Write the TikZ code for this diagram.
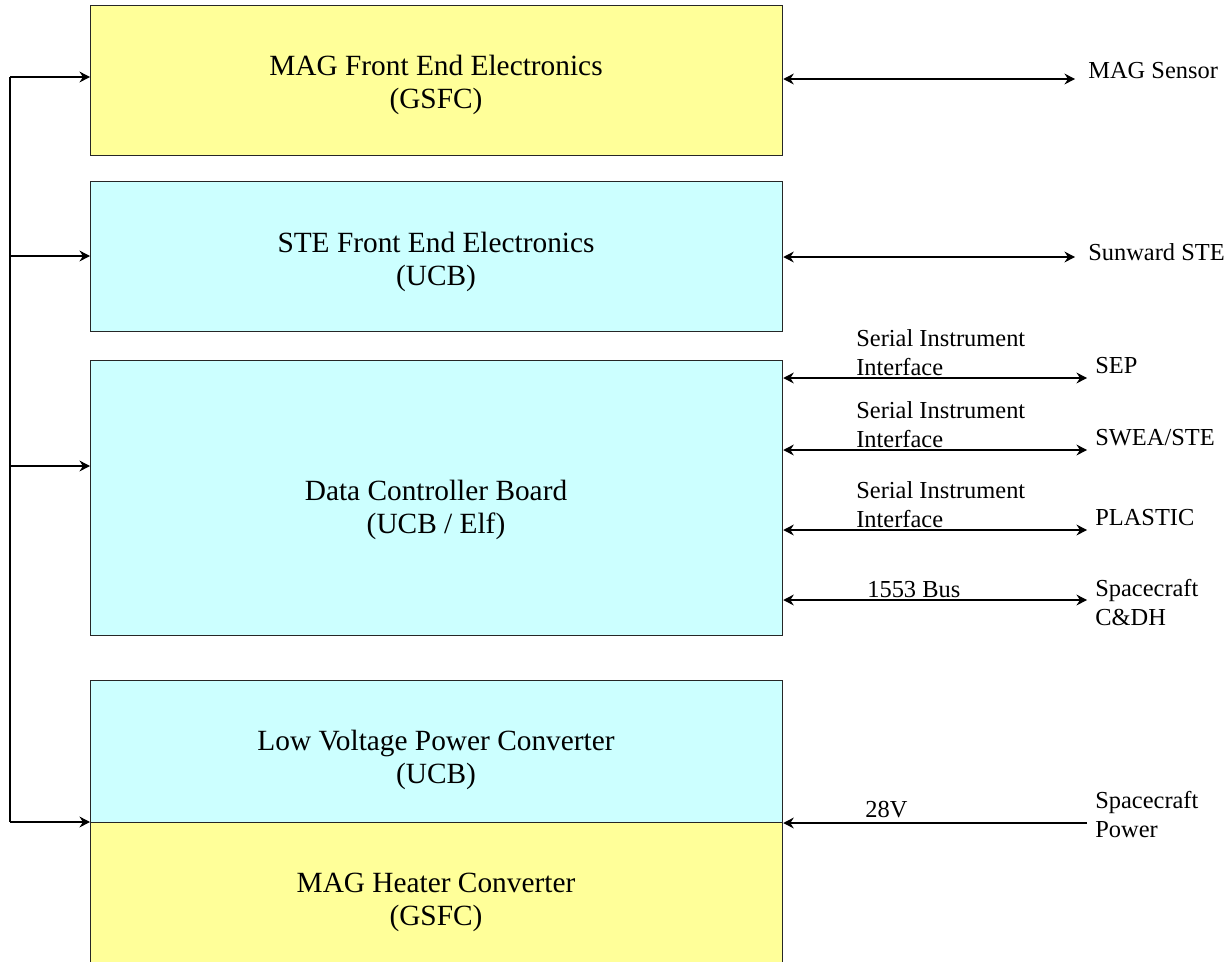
\documentclass[tikz,border=0pt]{standalone}
\usepackage{fontspec}
\setmainfont{Liberation Serif}
\usetikzlibrary{arrows.meta,calc}
\definecolor{magyellow}{HTML}{FFFF99}
\definecolor{stecyan}{HTML}{CCFFFF}
\tikzset{
  box/.style={draw=black!85, line width=0.8pt, rectangle, inner sep=0pt, anchor=north west, minimum width=13.84cm},
  boxtext/.style={font=\fontsize{16.7pt}{18.8pt}\selectfont, align=center, inner sep=0pt},
  lbl/.style={font=\fontsize{13.9pt}{16.2pt}\selectfont, align=left, inner sep=0pt, anchor=base west},
  wire/.style={line width=0.7pt, draw=black},
  tip/.style={},
  arr/.style={wire, -{Stealth[length=6pt,width=6.2pt,inset=2pt]}},
  darr/.style={wire, {Stealth[length=6pt,width=6.2pt,inset=2pt]}-{Stealth[length=6pt,width=6.2pt,inset=2pt]}}
}
\begin{document}
\begin{tikzpicture}[x=0.02cm,y=-0.02cm]
\useasboundingbox (0,0) rectangle (1228,961);
\fill[white] (0,0) rectangle (1228,961);

% boxes
\node[box, fill=magyellow, minimum height=3.0cm] (mag) at (90,5) {};
\node[box, fill=stecyan, minimum height=3.0cm] (ste) at (90,181) {};
\node[box, fill=stecyan, minimum height=5.5cm] (dcb) at (90,360) {};
\node[box, fill=stecyan, minimum height=2.84cm] (lvpc) at (90,680) {};
\node[box, fill=magyellow, minimum height=2.9cm] (heat) at (90,822) {};

% box texts
\node[boxtext] (magt) at (436,85) {MAG Front End Electronics\\(GSFC)};
\node[boxtext] (stet) at (436,262) {STE Front End Electronics\\(UCB)};
\node[boxtext] (dcbt) at (436,510) {Data Controller Board\\(UCB / Elf)};
\node[boxtext] (lvpct) at (436,760) {Low Voltage Power Converter\\(UCB)};
\node[boxtext] (heatt) at (436,902) {MAG Heater Converter\\(GSFC)};

% power bus on the left
\coordinate (b1) at (10,77);
\coordinate (b2) at (10,256);
\coordinate (b3) at (10,466);
\coordinate (b4) at (10,822);
\draw[wire] (b1) -- (b4);
\draw[arr] (b1) -- (b1 -| mag.west);
\draw[arr] (b2) -- (b2 -| ste.west);
\draw[arr] (b3) -- (b3 -| dcb.west);
\draw[arr] (b4) -- (b4 -| lvpc.west);

% right side interfaces
\coordinate (r1) at (1075,79);
\coordinate (r2) at (1075,257);
\coordinate (r3) at (1087,378);
\coordinate (r4) at (1087,450);
\coordinate (r5) at (1087,530);
\coordinate (r6) at (1087,600);
\coordinate (r7) at (1087,823);

\draw[darr] (r1 -| mag.east) -- (r1);
\draw[darr] (r2 -| ste.east) -- (r2);
\draw[darr] (r3 -| dcb.east) -- (r3);
\draw[darr] (r4 -| dcb.east) -- (r4);
\draw[darr] (r5 -| dcb.east) -- (r5);
\draw[darr] (r6 -| dcb.east) -- (r6);
\draw[arr] (r7) -- (r7 -| lvpc.east);

\node[lbl] (magsensor) at (1088,78) {MAG Sensor};
\node[lbl] (sunste) at (1088,260) {Sunward STE};

\node[lbl] (sii1) at (856,375) {Serial Instrument\\Interface};
\node[lbl] (sep) at (1095,373) {SEP};
\node[lbl] (sii2) at (856,447) {Serial Instrument\\Interface};
\node[lbl] (swea) at (1095,445) {SWEA/STE};
\node[lbl] (sii3) at (856,527) {Serial Instrument\\Interface};
\node[lbl] (plastic) at (1095,525) {PLASTIC};
\node[lbl] (bus) at (867,597) {1553 Bus};
\node[lbl] (cdh) at (1095,625) {Spacecraft\\C\&DH};
\node[lbl] (v28) at (865,817) {28V};
\node[lbl] (scpow) at (1095,837) {Spacecraft\\Power};
\end{tikzpicture}
\end{document}
